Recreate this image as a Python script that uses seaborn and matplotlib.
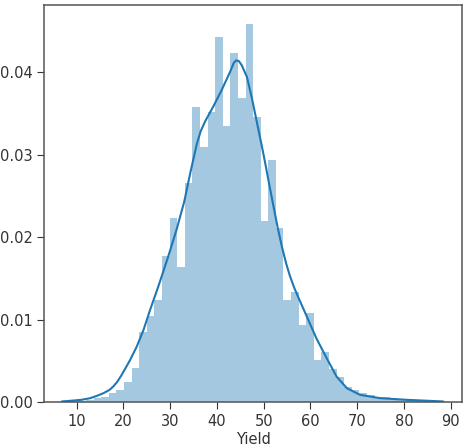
import numpy as np
import pandas as pd
import seaborn as sns
import matplotlib.pyplot as plt
from matplotlib.ticker import FormatStrFormatter

# yield range covered by the histogram (50 bins, as distplot did)
yield_min = 7.13
yield_max = 88.33
n_bins = 50

# bar heights (density), left to right
density = [0.0001, 0.0001, 0.0002, 0.0003, 0.0005, 0.0007, 0.0011, 0.0015, 0.0025, 0.0042,
           0.0085, 0.0104, 0.0124, 0.0177, 0.0223, 0.0164, 0.0265, 0.0357, 0.0309, 0.0352,
           0.0442, 0.0334, 0.0423, 0.0368, 0.0458, 0.0345, 0.0220, 0.0293, 0.0211, 0.0124,
           0.0134, 0.0094, 0.0108, 0.0051, 0.0061, 0.0040, 0.0031, 0.0018, 0.0015, 0.0011,
           0.0009, 0.0007, 0.0006, 0.0005, 0.0004, 0.0003, 0.0003, 0.0002, 0.0001, 0.0001]

# kde curve
kde_x = [6.8, 9.0, 11.0, 12.9, 14.4, 15.7, 17.0, 17.8, 18.7, 19.6, 20.5, 21.4, 22.8, 24.25,
         25.7, 27.5, 29.6, 31.4, 33.0, 34.3, 35.7, 36.5, 37.45, 39.2, 41.0, 42.8, 43.6, 44.1,
         44.7, 45.3, 46.4, 47.4, 48.5, 49.6, 50.3, 51.2, 52.1, 53.0, 53.9, 54.8, 55.6, 56.5,
         57.4, 59.2, 61.3, 63.5, 65.6, 67.8, 70.6, 74.9, 80.6, 88.4]
kde_y = [0.0001, 0.0002, 0.0003, 0.0005, 0.0008, 0.0011, 0.0015, 0.0019, 0.0025, 0.0033,
         0.0042, 0.0051, 0.0067, 0.0087, 0.0112, 0.0141, 0.0177, 0.0210, 0.0243, 0.0278,
         0.0313, 0.0328, 0.0340, 0.0358, 0.0378, 0.0400, 0.0411, 0.0414, 0.0413, 0.0408,
         0.0394, 0.0370, 0.0340, 0.0310, 0.0290, 0.0263, 0.0237, 0.0211, 0.0188, 0.0168,
         0.0153, 0.0139, 0.0127, 0.0104, 0.0077, 0.0053, 0.0031, 0.0017, 0.0009, 0.0005,
         0.0003, 0.0001]

edges = np.linspace(yield_min, yield_max, n_bins + 1)
centers = (edges[:-1] + edges[1:]) / 2
hist_df = pd.DataFrame({"Yield": centers, "density": density})
kde_df = pd.DataFrame({"Yield": kde_x, "density": kde_y})

sns.set_style("ticks")
plt.rcParams["font.family"] = ["DejaVu Sans"]

fig = plt.figure(figsize=(4.65, 4.48), dpi=100)
ax = fig.add_axes([0.0953, 0.102, 0.8982, 0.8868])

sns.histplot(data=hist_df, x="Yield", weights="density", bins=n_bins,
             binrange=(yield_min, yield_max), stat="count",
             color="#1f77b4", alpha=0.4, linewidth=0, edgecolor="none", ax=ax)
sns.lineplot(data=kde_df, x="Yield", y="density", color="#1f77b4", linewidth=1.5, ax=ax)

ax.set_xlim(3.07, 92.4)
ax.set_ylim(0, 0.0481)
ax.set_xticks(range(10, 91, 10))
ax.set_yticks([0.0, 0.01, 0.02, 0.03, 0.04])
ax.yaxis.set_major_formatter(FormatStrFormatter("%.2f"))
ax.tick_params(labelsize=10.5, colors="#333333", length=5)
for s in ax.spines.values():
    s.set_color("#555555")
    s.set_linewidth(1.1)
ax.set_xlabel("Yield", fontsize=10.5, color="#333333", labelpad=2)
ax.set_ylabel("")

fig.savefig("out.png", dpi=100)
